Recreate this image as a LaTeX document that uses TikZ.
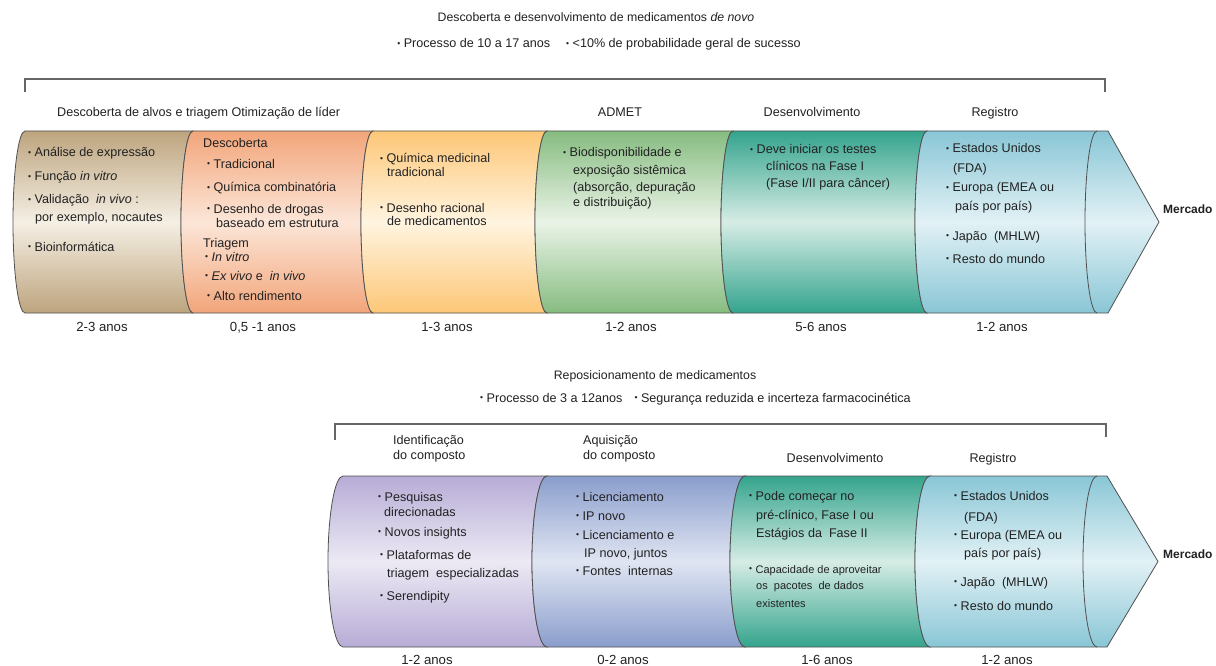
\documentclass[tikz,border=0pt]{standalone}
\usepackage{fontspec}
\setmainfont{Liberation Sans}
\definecolor{tanD}{HTML}{BDA47E}\definecolor{tanL}{HTML}{F5EFE4}
\definecolor{salD}{HTML}{F2A57A}\definecolor{salL}{HTML}{FCE6D8}
\definecolor{yelD}{HTML}{FDC777}\definecolor{yelL}{HTML}{FFF4E0}
\definecolor{grnD}{HTML}{86BC80}\definecolor{grnL}{HTML}{EAF3E7}
\definecolor{tealD}{HTML}{34A48D}\definecolor{tealL}{HTML}{D6ECE5}
\definecolor{bluD}{HTML}{89C6D6}\definecolor{bluL}{HTML}{E2F1F5}
\definecolor{lavD}{HTML}{B7ACD6}\definecolor{lavL}{HTML}{ECE9F4}
\definecolor{pbD}{HTML}{8A9DCC}\definecolor{pbL}{HTML}{E0E5F2}
\definecolor{ink}{HTML}{222222}
\definecolor{edge}{HTML}{505050}
\newcommand\bul{\raisebox{1.2pt}{\fontsize{8.5}{8}\selectfont•}\hspace{3.5pt}}
\newcommand\TL[4]{\node[txt] (#1) at (#2,#3) {#4};}
\newcommand\TC[4]{\node[txtc] (#1) at (#2,#3) {#4};}
\newcommand\SEG[8]{\shadedraw[seg,top color=#7,bottom color=#7,middle color=#8] (#1,#3) -- (#2,#3) arc[start angle=270,end angle=90,x radius=#5,y radius=#6] -- (#1,#4) arc[start angle=90,end angle=270,x radius=#5,y radius=#6] -- cycle;}
\begin{document}
\begin{tikzpicture}[x=1pt,y=-1pt,
  txt/.style={anchor=base west,inner sep=0pt,font=\fontsize{12.6}{14}\selectfont,text=ink},
  txtc/.style={anchor=base,inner sep=0pt,font=\fontsize{12.6}{14}\selectfont,text=ink},
  ttlf/.style={font=\fontsize{12.3}{14}\selectfont},
  durf/.style={font=\fontsize{13.2}{14}\selectfont},
  seg/.style={draw=edge,line width=0.8pt},
  brk/.style={draw=black!60,line width=1.1pt}]
\useasboundingbox[fill=white] (0,0) rectangle (1216,666);
% ---------- titles top
\node[txtc,ttlf] (ttl) at (596,22) {Descoberta e desenvolvimento de medicamentos \textit{de novo}};
\TC{sub}{599}{48}{\bul Processo de 10 a 17 anos\hspace{16pt}\bul <10\% de probabilidade geral de sucesso}
\coordinate (b1a) at (25,92); \coordinate (b1b) at (25,79);
\coordinate (b1c) at (1105,79); \coordinate (b1d) at (1105,92);
\draw[brk] (b1a) -- (b1b) -- (b1c) -- (b1d);
\TL{h1}{57}{117}{Descoberta de alvos e triagem Otimização de líder}
\TC{h2}{620}{117}{ADMET}
\TC{h3}{812}{117}{Desenvolvimento}
\TC{h4}{995}{117}{Registro}
% ---------- top cylinder
\SEG{25}{193}{131}{313}{12}{91}{tanD}{tanL}
\SEG{193}{373}{131}{313}{12}{91}{salD}{salL}
\SEG{373}{547}{131}{313}{12}{91}{yelD}{yelL}
\SEG{547}{733}{131}{313}{12}{91}{grnD}{grnL}
\SEG{733}{927}{131}{313}{12}{91}{tealD}{tealL}
\shadedraw[seg,top color=bluD,bottom color=bluD,middle color=bluL] (927,131) -- (1108,131) -- (1159,222) -- (1108,313) -- (927,313) arc[start angle=90,end angle=270,x radius=12,y radius=91] -- cycle;
\draw[seg] (1097,131) arc[start angle=270,end angle=90,x radius=12,y radius=91];
% seg1 text
\TL{a1}{28}{157}{\bul Análise de expressão}
\TL{a2}{28}{181}{\bul Função \textit{in vitro}}
\TL{a3}{28}{204}{\bul Validação \ \textit{in vivo} :}
\TL{a4}{35}{222}{por exemplo, nocautes}
\TL{a5}{28}{251}{\bul Bioinformática}
% seg2
\TL{b1}{203}{148}{Descoberta}
\TL{b2}{207}{168}{\bul Tradicional}
\TL{b3}{207}{192}{\bul Química combinatória}
\TL{b4}{207}{213}{\bul Desenho de drogas}
\TL{b5}{216}{227}{baseado em estrutura}
\TL{b6}{203}{247}{Triagem}
\TL{b7}{205}{261}{\bul\textit{In vitro}}
\TL{b8}{205}{280}{\bul\textit{Ex vivo} e \ \textit{in vivo}}
\TL{b9}{207}{300}{\bul Alto rendimento}
% seg3
\TL{c1}{380}{163}{\bul Química medicinal}
\TL{c2}{387}{177}{tradicional}
\TL{c3}{380}{212}{\bul Desenho racional}
\TL{c4}{387}{225}{de medicamentos}
% seg4
\TL{d1}{563}{157}{\bul Biodisponibilidade e}
\TL{d2}{573}{175}{exposição sistêmica}
\TL{d3}{573}{192}{(absorção, depuração}
\TL{d4}{573}{206}{e distribuição)}
% seg5
\TL{e1}{750}{154}{\bul Deve iniciar os testes}
\TL{e2}{766}{171}{clínicos na Fase I}
\TL{e3}{766}{187}{(Fase I/II para câncer)}
% seg6
\TL{f1}{946}{153}{\bul Estados Unidos}
\TL{f2}{953}{173}{(FDA)}
\TL{f3}{946}{192}{\bul Europa (EMEA ou}
\TL{f4}{955}{210}{país por país)}
\TL{f5}{946}{240}{\bul Japão \ (MHLW)}
\TL{f6}{946}{263}{\bul Resto do mundo}
\node[txt,font=\fontsize{12}{14}\selectfont\bfseries] (m1) at (1163,213) {Mercado};
% durations top
\node[txtc,durf] (y1) at (102,331) {2-3 anos};
\node[txtc,durf] (y2) at (263,331) {0,5 -1 anos};
\node[txtc,durf] (y3) at (447,331) {1-3 anos};
\node[txtc,durf] (y4) at (631,331) {1-2 anos};
\node[txtc,durf] (y5) at (821,331) {5-6 anos};
\node[txtc,durf] (y6) at (1002,331) {1-2 anos};
% ---------- bottom
\node[txtc,ttlf] (ttl2) at (655,379) {Reposicionamento de medicamentos};
\TL{sub2}{480}{402}{\bul Processo de 3 a 12anos\hspace{12pt}\bul Segurança reduzida e incerteza farmacocinética}
\coordinate (b2a) at (335,440); \coordinate (b2b) at (335,424);
\coordinate (b2c) at (1106,424); \coordinate (b2d) at (1106,437);
\draw[brk] (b2a) -- (b2b) -- (b2c) -- (b2d);
\TL{g1}{393}{444}{Identificação}
\TL{g2}{393}{459}{do composto}
\TL{g3}{583}{444}{Aquisição}
\TL{g4}{583}{459}{do composto}
\TC{g5}{835}{462}{Desenvolvimento}
\TC{g6}{993}{462}{Registro}
\SEG{343}{547}{476}{647}{15}{85.5}{lavD}{lavL}
\SEG{547}{745}{476}{647}{15}{85.5}{pbD}{pbL}
\SEG{745}{930}{476}{647}{15}{85.5}{tealD}{tealL}
\shadedraw[seg,top color=bluD,bottom color=bluD,middle color=bluL] (930,476) -- (1107,476) -- (1158,561.5) -- (1107,647) -- (930,647) arc[start angle=90,end angle=270,x radius=15,y radius=85.5] -- cycle;
\draw[seg] (1097,476) arc[start angle=270,end angle=90,x radius=14,y radius=85.5];
% seg1 bottom
\TL{p1}{378}{501}{\bul Pesquisas}
\TL{p2}{384}{516}{direcionadas}
\TL{p3}{378}{536}{\bul Novos insights}
\TL{p4}{380}{559}{\bul Plataformas de}
\TL{p5}{387}{577}{triagem \ especializadas}
\TL{p6}{380}{600}{\bul Serendipity}
% seg2 bottom
\TL{q1}{576}{501}{\bul Licenciamento}
\TL{q2}{576}{520}{\bul IP novo}
\TL{q3}{576}{539}{\bul Licenciamento e}
\TL{q4}{584}{557}{IP novo, juntos}
\TL{q5}{576}{575}{\bul Fontes \ internas}
% seg3 bottom
\TL{r1}{749}{500}{\bul Pode começar no}
\TL{r2}{756}{519}{pré-clínico, Fase I ou}
\TL{r3}{756}{537}{Estágios da \ Fase II}
\node[txt,font=\fontsize{11}{12}\selectfont] (r4) at (749,573) {\bul Capacidade de aproveitar};
\node[txt,font=\fontsize{11}{12}\selectfont] (r5) at (756,589) {os \ pacotes \ de dados};
\node[txt,font=\fontsize{11}{12}\selectfont] (r6) at (756,607) {existentes};
% seg4 bottom
\TL{s1}{954}{500}{\bul Estados Unidos}
\TL{s2}{964}{521}{(FDA)}
\TL{s3}{954}{539}{\bul Europa (EMEA ou}
\TL{s4}{964}{557}{país por país)}
\TL{s5}{954}{586}{\bul Japão \ (MHLW)}
\TL{s6}{954}{610}{\bul Resto do mundo}
\node[txt,font=\fontsize{12}{14}\selectfont\bfseries] (m2) at (1163,558) {Mercado};
% durations bottom
\node[txtc,durf] (z1) at (427,664) {1-2 anos};
\node[txtc,durf] (z2) at (623,664) {0-2 anos};
\node[txtc,durf] (z3) at (827,664) {1-6 anos};
\node[txtc,durf] (z4) at (1007,664) {1-2 anos};
\end{tikzpicture}
\end{document}
